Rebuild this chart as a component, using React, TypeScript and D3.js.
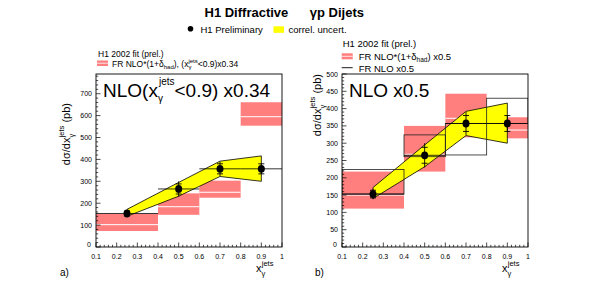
import React from 'react'
import * as d3 from 'd3'

// bins and measured points (same data in both panels)
const binEdges = [0.1, 0.4, 0.6, 0.8, 1.0]
const xPts = [0.25, 0.5, 0.7, 0.9]
const dataY = [153, 265, 357, 357]
const statErr = [11, 23, 23, 23]
const totErr = [15, 35, 33, 24]
const bandUp = [172, 295, 392, 416]
const bandLo = [140, 232, 322, 300]

// panel a: FR NLO*(1+delta_had), x0.34
const nloALo = [73, 147, 225, 554]
const nloAHi = [151, 245, 303, 661]
const nloAMid = [102, 184, 250, 595]

// panel b: FR NLO*(1+delta_had), x0.5
const nloBLo = [111, 218, 317, 314]
const nloBHi = [218, 350, 443, 375]
const nloBMid = [150, 268, 372, 338]
// panel b: FR NLO x0.5 (no hadr. corr.)
const nloPlainLo = [153, 261, 266, 357]
const nloPlainHi = [224, 324, 357, 430]

const xTicks = [0.1, 0.2, 0.3, 0.4, 0.5, 0.6, 0.7, 0.8, 0.9, 1]

const FONT = 'Liberation Sans, Arial, Helvetica, sans-serif'
const RED = '#ff7f7f'

type PanelProps = {
  x0: number
  yMax: number
  yStep: number
  yMinor: number
  lo: number[]
  hi: number[]
  mid: number[]
  boxLo?: number[]
  boxHi?: number[]
}

function Panel({ x0, yMax, yStep, yMinor, lo, hi, mid, boxLo, boxHi }: PanelProps) {
  const top = 74
  const bottom = 247
  const x = d3.scaleLinear().domain([0.1, 1]).range([x0, x0 + 186])
  const y = d3.scaleLinear().domain([0, yMax]).range([bottom, top])

  const yMajor = d3.range(0, yMax + 0.1, yStep)
  const yMin = d3.range(0, yMax + 0.1, yMinor)
  const xMin = d3.range(0.1, 1.0001, 0.02)

  const band = d3.area<number>()
    .x((d, i) => x(xPts[i]))
    .y0((d, i) => y(bandLo[i]))
    .y1((d) => y(d))
  const bandPath = band(bandUp) || ''

  return (
    <g>
      <defs>
        <clipPath id={`clip${x0}`}>
          <rect x={x(0.1)} y={top} width={x(1) - x(0.1)} height={bottom - top} />
        </clipPath>
      </defs>
      <g clipPath={`url(#clip${x0})`}>
        {lo.map((v, i) => (
          <g key={i}>
            <rect x={x(binEdges[i])} y={y(hi[i])} width={x(binEdges[i + 1]) - x(binEdges[i])}
              height={y(v) - y(hi[i])} fill={RED} />
            <line x1={x(binEdges[i])} x2={x(binEdges[i + 1])} y1={y(mid[i])} y2={y(mid[i])}
              stroke="#fff" strokeWidth={1} />
          </g>
        ))}
        <path d={bandPath} fill="#ffff00" stroke="#000" strokeWidth={0.8} />
        {boxLo && boxHi && boxLo.map((v, i) => (
          <rect key={i} x={x(binEdges[i])} y={y(boxHi[i])} width={x(binEdges[i + 1]) - x(binEdges[i])}
            height={y(v) - y(boxHi[i])} fill="none" stroke="#222" strokeWidth={0.8} />
        ))}
        {dataY.map((v, i) => (
          <line key={i} x1={x(binEdges[i])} x2={x(binEdges[i + 1])} y1={y(v)} y2={y(v)}
            stroke="#000" strokeWidth={0.8} />
        ))}
        {dataY.map((v, i) => (
          <g key={i}>
            <line x1={x(xPts[i])} x2={x(xPts[i])} y1={y(v - totErr[i])} y2={y(v + totErr[i])} stroke="#000" strokeWidth={0.9} />
            <line x1={x(xPts[i]) - 3} x2={x(xPts[i]) + 3} y1={y(v - statErr[i])} y2={y(v - statErr[i])} stroke="#000" strokeWidth={0.9} />
            <line x1={x(xPts[i]) - 3} x2={x(xPts[i]) + 3} y1={y(v + statErr[i])} y2={y(v + statErr[i])} stroke="#000" strokeWidth={0.9} />
            <ellipse cx={x(xPts[i])} cy={y(v)} rx={3.5} ry={3.9} fill="#000" />
          </g>
        ))}
      </g>
      <rect x={x(0.1)} y={top} width={x(1) - x(0.1)} height={bottom - top} fill="none" stroke="#000" strokeWidth={0.9} />
      {/* ticks */}
      {xMin.map((t, i) => (
        <line key={'xm' + i} x1={x(t)} x2={x(t)} y1={bottom} y2={bottom - (i % 5 === 0 ? 4.5 : 2.2)} stroke="#000" strokeWidth={0.7} />
      ))}
      {yMin.map((t, i) => (
        <line key={'ym' + i} x1={x(0.1)} x2={x(0.1) + (t % yStep === 0 ? 4.5 : 2.2)} y1={y(t)} y2={y(t)} stroke="#000" strokeWidth={0.7} />
      ))}
      {xTicks.map((t) => (
        <text key={'xt' + t} x={x(t)} y={259} fontSize={7} fontFamily={FONT} textAnchor="middle">{t === 1 ? '1' : t.toFixed(1)}</text>
      ))}
      {yMajor.map((t) => (
        <text key={'yt' + t} x={x(0.1) - (t === 0 ? 5 : 4)} y={y(t) + 2.5 - (t === 0 ? 3 : 0)} fontSize={7} fontFamily={FONT} textAnchor="end">{t}</text>
      ))}
      {/* x title */}
      <text x={x(1) - 26} y={272} fontSize={11} fontFamily={FONT}>
        x<tspan fontSize={7.5} dy={3.5}>γ</tspan><tspan fontSize={7.5} dx={-3.5} dy={-10}>jets</tspan>
      </text>
    </g>
  )
}

function YTitle({ x, yEnd }: { x: number; yEnd: number }) {
  return (
    <text transform={`translate(${x},${yEnd}) rotate(-90)`} fontSize={11} fontFamily={FONT} textAnchor="end">
      dσ/dx<tspan fontSize={7.5} dy={3.5}>γ</tspan><tspan fontSize={7.5} dx={-3.5} dy={-10}>jets</tspan><tspan dy={6.5}> (pb)</tspan>
    </text>
  )
}

export default function App() {
  return (
    <svg width={592} height={291} style={{ position: 'absolute', left: 0, top: 0, background: '#fff' }}>
      <rect width={592} height={291} fill="#fff" />
      <text x={204.5} y={17} fontSize={13} fontWeight="bold" fontFamily={FONT}>H1 Diffractive</text>
      <text x={364} y={17} fontSize={13} fontWeight="bold" fontFamily={FONT} textAnchor="end">γp Dijets</text>
      <circle cx={190.5} cy={28.7} r={2.8} fill="#000" />
      <text x={200.5} y={32.5} fontSize={9.5} fontFamily={FONT}>H1 Preliminary</text>
      <rect x={273.5} y={26.3} width={10.5} height={6.5} fill="#ffff00" />
      <text x={288.5} y={32.5} fontSize={9.5} fontFamily={FONT}>correl. uncert.</text>

      {/* panel a legend */}
      <text x={98} y={56.5} fontSize={8.5} fontFamily={FONT}>H1 2002 fit (prel.)</text>
      <rect x={97} y={60.5} width={11} height={5.5} fill={RED} />
      <line x1={97} x2={108} y1={63.2} y2={63.2} stroke="#fff" strokeWidth={0.8} />
      <text x={112} y={67} fontSize={8.5} fontFamily={FONT}>
        FR NLO*(1+δ<tspan fontSize={6} dy={2}>had</tspan><tspan dy={-2}>), (x</tspan><tspan fontSize={6} dy={2}>γ</tspan><tspan fontSize={6} dx={-3} dy={-6}>jets</tspan><tspan dy={4}>&lt;0.9)x0.34</tspan>
      </text>

      {/* panel b legend */}
      <text x={342.7} y={46.5} fontSize={9.5} fontFamily={FONT}>H1 2002 fit (prel.)</text>
      <rect x={341.7} y={53.3} width={11} height={6} fill={RED} />
      <line x1={341.7} x2={352.7} y1={56.3} y2={56.3} stroke="#fff" strokeWidth={0.8} />
      <text x={358.7} y={60} fontSize={9.5} fontFamily={FONT}>
        FR NLO*(1+δ<tspan fontSize={6.5} dy={2}>had</tspan><tspan dy={-2}>) x0.5</tspan>
      </text>
      <line x1={341.7} x2={352.7} y1={67.7} y2={67.7} stroke="#000" strokeWidth={0.9} />
      <text x={358.7} y={71.5} fontSize={9.5} fontFamily={FONT}>FR NLO x0.5</text>

      <Panel x0={96} yMax={790} yStep={100} yMinor={20} lo={nloALo} hi={nloAHi} mid={nloAMid} />
      <Panel x0={342} yMax={500} yStep={50} yMinor={10} lo={nloBLo} hi={nloBHi} mid={nloBMid}
        boxLo={nloPlainLo} boxHi={nloPlainHi} />

      <YTitle x={70} yEnd={103} />
      <YTitle x={321} yEnd={74} />

      <text x={103} y={97} fontSize={19} fontFamily={FONT}>
        NLO(x<tspan fontSize={10} dy={5}>γ</tspan><tspan fontSize={10} dx={-4} dy={-17}>jets</tspan><tspan dy={12}>&lt;0.9) x0.34</tspan>
      </text>
      <text x={349} y={97} fontSize={19} fontFamily={FONT}>NLO x0.5</text>

      <text x={60} y={276} fontSize={10} fontFamily={FONT}>a)</text>
      <text x={315} y={276} fontSize={10} fontFamily={FONT}>b)</text>
    </svg>
  )
}
